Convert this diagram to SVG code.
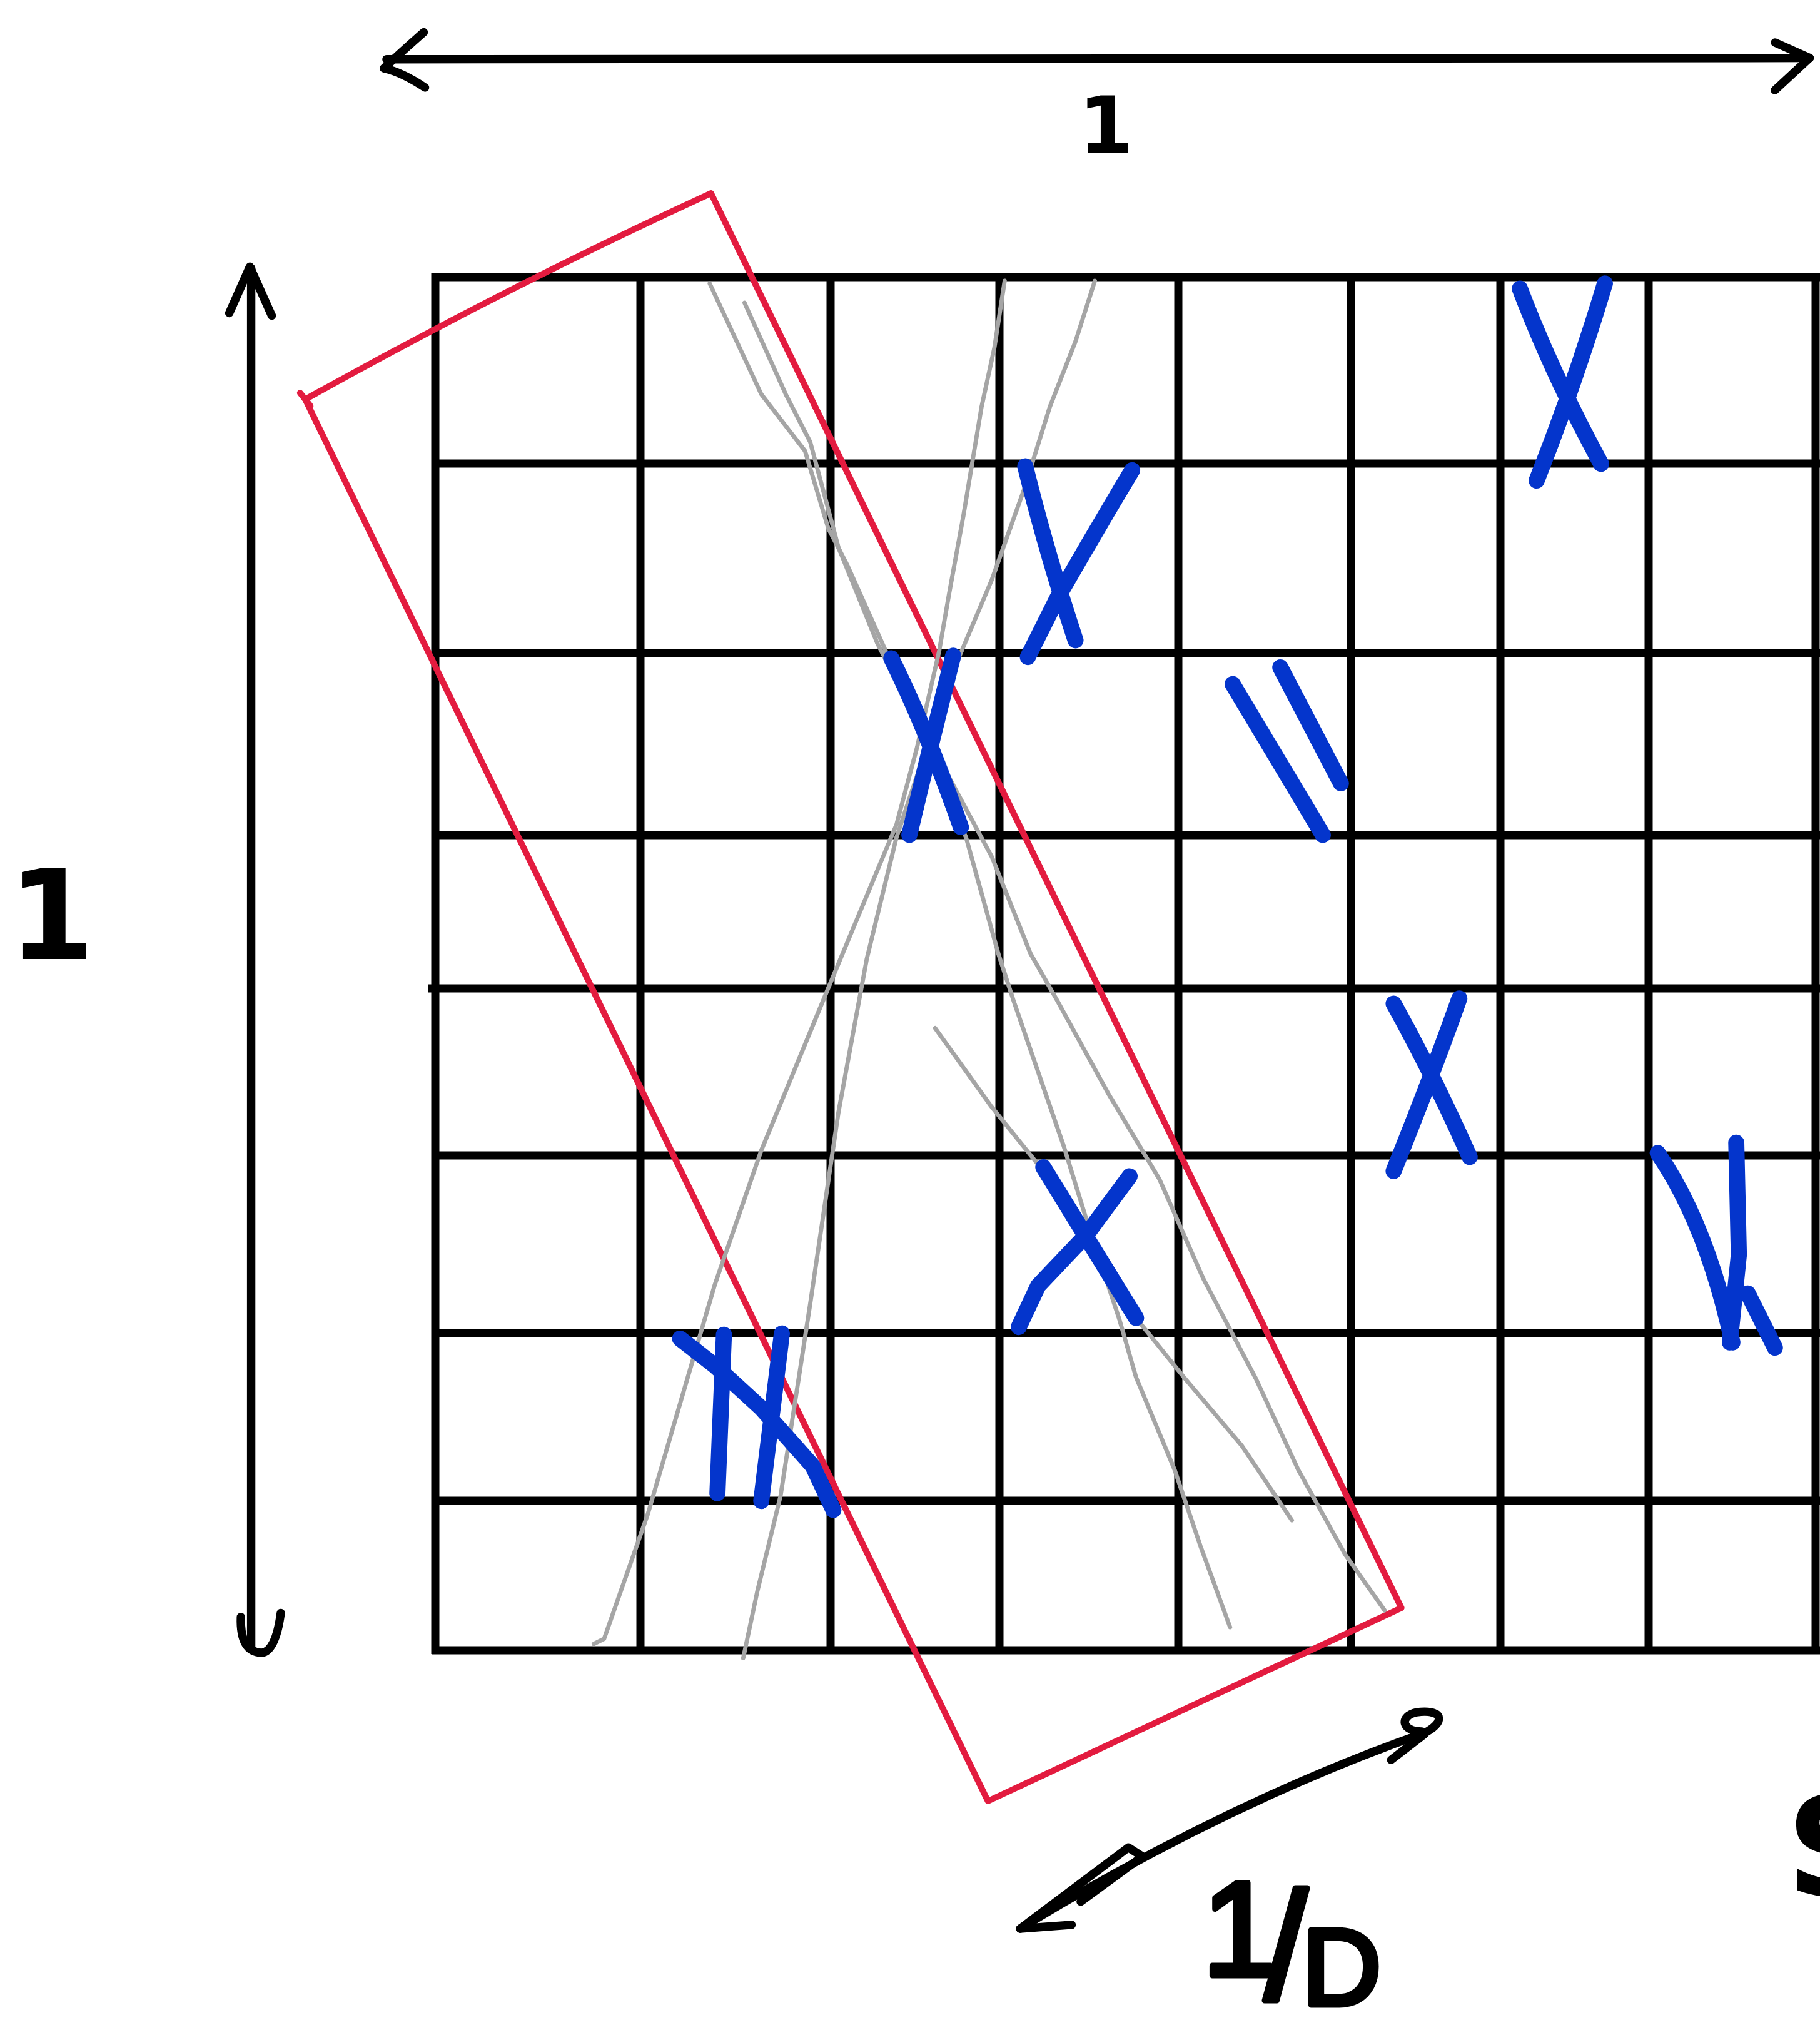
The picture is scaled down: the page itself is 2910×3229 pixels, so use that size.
<svg xmlns="http://www.w3.org/2000/svg" width="2910" height="3229" viewBox="0 0 2910 3229">
<style>
.grid{stroke:#000;stroke-width:13;stroke-linecap:butt;fill:none}
.ink{stroke:#000;stroke-width:6.5;fill:none;stroke-linecap:round;stroke-linejoin:round}
.red{stroke:#e31b3f;stroke-width:4.8;fill:none;stroke-linecap:round;stroke-linejoin:round}
.ray{stroke:#a5a5a5;stroke-width:3.3;fill:none;stroke-linecap:round;stroke-linejoin:round}
.mark{stroke:#0435cc;stroke-width:12.5;fill:none;stroke-linecap:round;stroke-linejoin:round}
.lbl{font-family:"DejaVu Sans","Liberation Sans",sans-serif;font-weight:bold;fill:#000}
.hand{font-family:"Liberation Sans","DejaVu Sans",sans-serif;font-weight:normal;fill:#000;stroke:#000;stroke-width:9;stroke-linejoin:round}
</style>
<rect x="0" y="0" width="2910" height="3229" fill="#fff"/>
<g id="grid">
<line class="grid" x1="690" y1="443" x2="2910" y2="443"/>
<line class="grid" x1="690" y1="741" x2="2910" y2="741"/>
<line class="grid" x1="690" y1="1044" x2="2910" y2="1044"/>
<line class="grid" x1="690" y1="1335" x2="2910" y2="1335"/>
<line class="grid" x1="684" y1="1580" x2="2910" y2="1580"/>
<line class="grid" x1="690" y1="1847" x2="2910" y2="1847"/>
<line class="grid" x1="690" y1="2131" x2="2910" y2="2131"/>
<line class="grid" x1="690" y1="2399" x2="2910" y2="2399"/>
<line class="grid" x1="690" y1="2638" x2="2910" y2="2638"/>
<line class="grid" x1="696" y1="437" x2="696" y2="2644"/>
<line class="grid" x1="1024" y1="437" x2="1024" y2="2644"/>
<line class="grid" x1="1328" y1="437" x2="1328" y2="2644"/>
<line class="grid" x1="1598" y1="437" x2="1598" y2="2644"/>
<line class="grid" x1="1884" y1="437" x2="1884" y2="2644"/>
<line class="grid" x1="2160" y1="437" x2="2160" y2="2644"/>
<line class="grid" x1="2399" y1="437" x2="2399" y2="2644"/>
<line class="grid" x1="2636" y1="437" x2="2636" y2="2644"/>
<line class="grid" x1="2903" y1="437" x2="2903" y2="2644"/>
</g>
<g transform="scale(2.05945)">
<g id="connectors">
<path class="ink" d="M300,46 L1405,45"/>
<path class="ink" d="M329,25 Q312,40 298,53 Q312,56 330,68"/>
<path class="ink" d="M1378,33 L1405,45 L1378,70"/>
<path class="ink" d="M195,208 L195,1278"/>
<path class="ink" d="M178,243 L194,207 L211,245"/>
<path class="ink" d="M187,1255 Q186,1282 203,1283 Q214,1282 218,1252"/>
<path class="ink" stroke-width="4" d="M792,1497 Q950,1400 1106,1345"/>
<path class="ink" stroke-width="4.5" d="M1099,1348 C1122,1340 1124,1326 1100,1329 C1086,1332 1088,1344 1104,1344"/>
<path class="ink" stroke-width="4" d="M1080,1366 L1106,1346"/>
<path class="ink" stroke-width="4" d="M832,1494 L792,1497 L876,1434 L887,1441 L839,1476"/>
</g>
<g id="window">
<path class="red" d="M237,310 Q395,222 552,150 L1088,1248 L767,1398 Z"/>
<path class="red" d="M233,305 L241,315"/>
</g>
<g id="rays">
<polyline class="ray" points="551,220 591,306 625,350 643,410 658,439 688,506 710,560 728,600 750,650 775,740 787,777 826,890 843,945 869,1024 882,1069 912,1141 932,1200 955,1263"/>
<polyline class="ray" points="578,235 610,306 629,343 651,425 681,499 712,560 735,600 770,665 800,740 821,777 860,848 900,915 934,992 975,1070 1008,1141 1044,1206 1075,1250"/>
<polyline class="ray" points="780,218 772,270 762,316 748,400 737,460 729,506 712,580 696,640 643,767 591,893 555,997 503,1175 469,1272 461,1276"/>
<polyline class="ray" points="850,218 835,265 815,316 795,380 770,450 745,509 716,590 696,650 673,744 651,863 629,1012 606,1161 588,1235 577,1287"/>
<polyline class="ray" points="726,798 769,858 806,904 846,963 886,1028 920,1070 964,1122 1003,1180"/>
</g>
<g id="marks">
<path class="mark" d="M1180,224 Q1205,290 1243,360 M1246,220 Q1222,300 1193,373"/>
<path class="mark" d="M796,362 Q812,427 835,497 M879,365 Q849,415 821,464 L798,510"/>
<path class="mark" d="M692,511 Q718,563 746,642 M740,509 Q723,576 706,648"/>
<path class="mark" d="M957,531 L1027,648 M994,518 L1041,608"/>
<path class="mark" d="M1082,779 Q1112,833 1141,898 M1133,775 Q1114,829 1082,909"/>
<path class="mark" d="M1287,895 Q1325,950 1345,1042 M1348,887 L1350,974 L1343,1042 M1357,1004 L1378,1046"/>
<path class="mark" d="M810,906 L882,1023 M877,913 L843,959 L806,998 L791,1030"/>
<path class="mark" stroke-width="14" d="M528,1039 L555,1060 L591,1093 L631,1138 L647,1172 M562,1036 L557,1159 M607,1035 L591,1165"/>
</g>
</g>
<g id="labels">
<text class="lbl" x="1768" y="245" font-size="126" text-anchor="middle">1</text>
<text class="lbl" x="82" y="1533" font-size="200" text-anchor="middle">1</text>
<text class="hand"><tspan x="1922" y="3158" font-size="215">1</tspan><tspan x="2022" y="3196" font-size="245">/</tspan><tspan x="2082" y="3205" font-size="175">D</tspan></text>
<text class="lbl" x="2856" y="3030" font-size="220">S</text>
</g>
</svg>
